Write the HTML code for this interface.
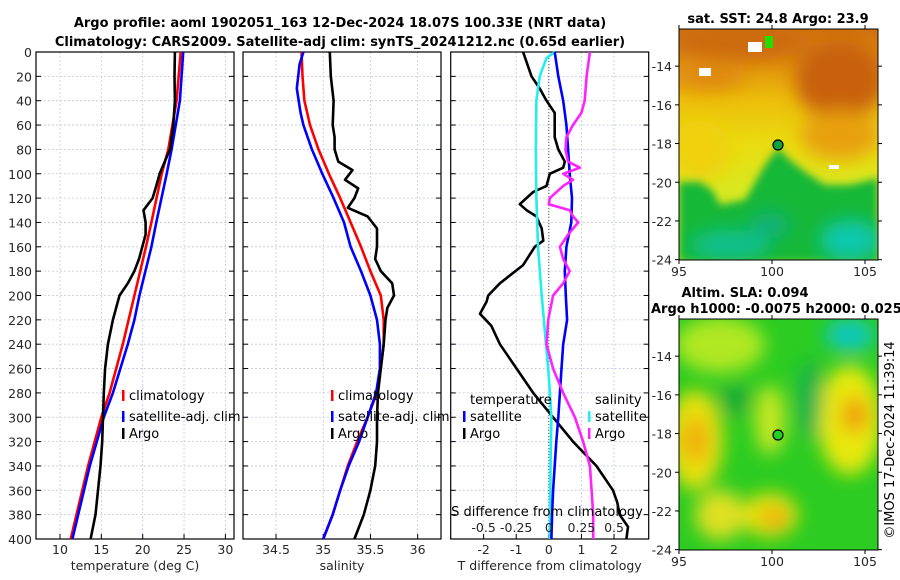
<!DOCTYPE html>
<html><head><meta charset="utf-8"><style>
body{margin:0;background:#fff;}
svg{display:block;font-family:"DejaVu Sans","Liberation Sans",sans-serif;}
.tk{font-size:12.5px;fill:#262626;}
.tt{font-size:13px;font-weight:bold;fill:#000;}
.lg{font-size:13px;fill:#000;}
</style></head><body>
<svg id="c" width="900" height="580" viewBox="0 0 900 580">
<defs>
<clipPath id="m1"><rect x="679" y="29" width="199" height="231"/></clipPath>
<clipPath id="m2"><rect x="679" y="319" width="199" height="231"/></clipPath>
<filter id="bl" x="-50%" y="-50%" width="200%" height="200%"><feGaussianBlur stdDeviation="9"/></filter>
<filter id="bl2" x="-50%" y="-50%" width="200%" height="200%"><feGaussianBlur stdDeviation="4"/></filter>
<linearGradient id="sstg" x1="0" y1="0" x2="0" y2="1">
<stop offset="0" stop-color="#d0700e"/><stop offset="0.15" stop-color="#e0900e"/><stop offset="0.3" stop-color="#ecbc0a"/><stop offset="0.5" stop-color="#eadc10"/><stop offset="0.7" stop-color="#d8e820"/><stop offset="1" stop-color="#c0e020"/>
</linearGradient>
</defs>
<text class="tt" x="340" y="27" text-anchor="middle">Argo profile: aoml 1902051_163 12-Dec-2024 18.07S 100.33E (NRT data)</text>
<text class="tt" x="340" y="46" text-anchor="middle">Climatology: CARS2009. Satellite-adj clim: synTS_20241212.nc (0.65d earlier)</text>
<g id="panels"></g>
<!-- SST map -->
<g clip-path="url(#m1)">
<rect x="679" y="29" width="199" height="231" fill="url(#sstg)"/>
<g filter="url(#bl)">
<ellipse cx="840" cy="80" rx="45" ry="40" fill="#c86010"/>
<ellipse cx="740" cy="42" rx="70" ry="18" fill="#cc6a10"/>
<ellipse cx="710" cy="75" rx="35" ry="15" fill="#e08a10"/>
<ellipse cx="840" cy="135" rx="40" ry="25" fill="#e8a010"/>
<ellipse cx="700" cy="150" rx="30" ry="30" fill="#f0d010"/>
</g>
<polygon filter="url(#bl2)" points="679,182 700,182 712,190 720,205 745,200 765,165 778,148 790,160 805,172 825,185 850,185 878,178 878,262 679,262" fill="#18b838"/>
<g filter="url(#bl)">
<ellipse cx="730" cy="245" rx="40" ry="15" fill="#10c090"/>
<ellipse cx="850" cy="240" rx="30" ry="20" fill="#10c8b0"/>
<ellipse cx="770" cy="225" rx="20" ry="12" fill="#10b080"/>
</g>
<rect x="699" y="68" width="12" height="8" fill="#fff"/>
<rect x="748" y="42" width="14" height="10" fill="#fff"/>
<rect x="829" y="165" width="10" height="4" fill="#fff"/>
<rect x="765" y="36" width="8" height="12" fill="#22dd00"/>
</g>
<rect x="679" y="29" width="199" height="231" fill="none" stroke="#000" stroke-width="1"/>
<circle cx="778" cy="145" r="5" fill="#10a040" stroke="#000" stroke-width="1.2"/>
<text class="tt" x="778" y="23" text-anchor="middle">sat. SST: 24.8 Argo: 23.9</text>
<!-- SLA map -->
<g clip-path="url(#m2)">
<rect x="679" y="319" width="199" height="231" fill="#2ccc22"/>
<g filter="url(#bl)">
<ellipse cx="720" cy="345" rx="45" ry="28" fill="#b0e820"/>
<ellipse cx="695" cy="440" rx="28" ry="50" fill="#e8e010"/>
<ellipse cx="695" cy="440" rx="14" ry="22" fill="#f0b010"/>
<ellipse cx="850" cy="420" rx="32" ry="55" fill="#e8e810"/>
<ellipse cx="855" cy="415" rx="14" ry="18" fill="#f0a010"/>
<ellipse cx="770" cy="515" rx="28" ry="22" fill="#e8e010"/>
<ellipse cx="775" cy="518" rx="12" ry="10" fill="#f0a010"/>
<ellipse cx="720" cy="515" rx="25" ry="25" fill="#e0e020"/>
<ellipse cx="770" cy="420" rx="15" ry="35" fill="#c8e820"/>
<ellipse cx="850" cy="335" rx="25" ry="16" fill="#10c8c0"/>
<ellipse cx="810" cy="400" rx="12" ry="40" fill="#18b050"/>
<ellipse cx="735" cy="400" rx="15" ry="15" fill="#18a838"/>
</g>
</g>
<rect x="679" y="319" width="199" height="231" fill="none" stroke="#000" stroke-width="1"/>
<circle cx="778" cy="435" r="5" fill="#22cc22" stroke="#000" stroke-width="1.2"/>
<text class="tt" x="745" y="297" text-anchor="middle">Altim. SLA: 0.094</text>
<text class="tt" x="651" y="313">Argo h1000: -0.0075 h2000: 0.025</text>
<text class="lg" transform="translate(894,440) rotate(-90)" text-anchor="middle">©IMOS 17-Dec-2024 11:39:14</text>
<g id="maxes"></g>
</svg>
<script>
const depths=[0,20,40,60,80,100,110,120,130,140,150,160,170,180,190,200,210,220,240,260,280,300,320,340,360,380,400];
const climTD=[0,40,80,100,140,160,200,240,280,300,340,400];
const climT=[24.6,24.1,23.1,22.3,21.05,20.4,19.0,17.6,16.0,15.0,13.4,11.3];
const satTD=[0,40,80,100,140,160,200,220,240,280,300,340,400];
const satT=[24.9,24.5,23.5,22.9,21.65,21.05,19.6,19.0,18.2,16.4,15.3,13.6,11.5];
const argoTD=[0,20,40,60,80,100,110,120,130,140,150,160,170,180,190,200,210,220,240,260,280,300,320,340,360,380,400];
const argoT=[23.9,23.85,23.9,23.7,23.3,22.05,21.65,21.2,20.1,20.35,20.35,19.95,19.55,19.0,18.2,17.2,16.8,16.4,15.8,15.45,15.3,15.2,15.1,14.9,14.6,14.3,13.7];
const climSD=[0,20,40,60,80,100,120,140,160,180,200,220,240,260,280,300,320,340,360,380,400];
const climS=[34.77,34.78,34.80,34.86,34.95,35.06,35.18,35.29,35.40,35.50,35.61,35.64,35.64,35.61,35.57,35.47,35.36,35.26,35.18,35.10,35.0];
const satSD=[0,10,30,50,60,80,100,120,140,160,180,200,220,240,260,280,300,320,340,360,380,400];
const satS=[34.79,34.75,34.72,34.76,34.79,34.88,34.99,35.11,35.22,35.29,35.40,35.50,35.57,35.60,35.60,35.56,35.47,35.38,35.27,35.18,35.10,35.0];
const argoSD=[0,20,40,60,70,80,90,97,105,112,120,128,135,145,160,170,180,190,200,210,220,240,260,280,300,320,340,360,380,400];
const argoS=[35.07,35.08,35.11,35.10,35.12,35.12,35.16,35.31,35.23,35.37,35.33,35.26,35.47,35.57,35.57,35.55,35.61,35.73,35.75,35.68,35.66,35.64,35.61,35.58,35.57,35.57,35.55,35.50,35.43,35.33];
const dTD=[0,20,30,40,50,70,80,90,95,100,110,115,125,130,135,145,155,160,175,190,200,205,215,225,240,260,280,300,320,340,360,370,380,390,400];
const dTArgo=[-0.79,-0.53,-0.28,-0.07,0.18,0.18,0.29,0.49,0.44,0.03,-0.07,-0.48,-0.89,-0.68,-0.38,-0.22,-0.17,-0.43,-0.79,-1.5,-1.86,-1.91,-2.11,-1.76,-1.5,-0.99,-0.48,0.13,0.74,1.46,1.97,2.1,2.17,2.43,2.38];
const dTSD=[0,20,40,60,80,100,120,140,160,180,200,220,240,260,280,300,320,340,360,380,400];
const dTSat=[0.18,0.29,0.44,0.54,0.59,0.64,0.71,0.69,0.54,0.49,0.52,0.56,0.44,0.39,0.34,0.29,0.23,0.18,0.13,0.10,0.08];
const dSSD=[0,5,20,40,80,120,160,200,240,260,280,300,340,400];
const dSSat=[0.045,-0.018,-0.07,-0.095,-0.10,-0.095,-0.083,-0.055,-0.022,-0.005,0.008,0.02,0.013,0.008];
const dSAD=[0,20,40,50,60,70,80,90,95,100,105,110,120,125,130,135,140,150,160,170,180,190,200,220,240,260,280,300,320,340,360,380,400];
const dSArgo=[0.315,0.29,0.275,0.25,0.185,0.135,0.128,0.148,0.238,0.11,0.185,0.11,0.008,0.0,0.16,0.185,0.225,0.148,0.085,0.11,0.16,0.11,0.033,-0.005,-0.018,0.033,0.11,0.2,0.263,0.315,0.328,0.34,0.34];
const yTicks=[0,20,40,60,80,100,120,140,160,180,200,220,240,260,280,300,320,340,360,380,400];
const tTicks=[10,15,20,25,30];
const sTicks=[34.5,35,35.5,36];
const dTicks=[-2,-1,0,1,2];
const dSTicks=[-0.5,-0.25,0,0.25,0.5];
const lonTicks=[95,100,105];
const latTicks=[-14,-16,-18,-20,-22,-24];

const NS='http://www.w3.org/2000/svg';
const Y0=52,Y1=539;
const yD=d=>Y0+d*(Y1-Y0)/400;
const px1=t=>36+(t-7.1)*8.27;
const px2=s=>243+(s-34.15)*94.4;
const px3=t=>450.7+(t+3.01)*32.6;
const pxS=s=>px3(s*4);
const G=document.getElementById('panels');
function mk(tag,at,parent){const e=document.createElementNS(NS,tag);for(const k in at)e.setAttribute(k,at[k]);(parent||G).appendChild(e);return e;}
function txt(x,y,s,cls,anchor,parent){const e=mk('text',{x:x,y:y,class:cls,'text-anchor':anchor||'middle'},parent);e.textContent=s;return e;}
function panel(name,x0,x1,xt,fx,xlab){
  const g=mk('g',{});
  
  
  yTicks.forEach(d=>{mk('line',{x1:x0,x2:x1,y1:yD(d),y2:yD(d),stroke:'#c4c8e0','stroke-width':0.8,'stroke-dasharray':'2,2'},g);
    mk('line',{x1:x0,x2:x0+5,y1:yD(d),y2:yD(d),stroke:'#000'},g);mk('line',{x1:x1-5,x2:x1,y1:yD(d),y2:yD(d),stroke:'#000'},g);});
  xt.forEach(v=>{mk('line',{x1:fx(v),x2:fx(v),y1:Y0,y2:Y1,stroke:'#c4c8e0','stroke-width':0.8,'stroke-dasharray':'2,2'},g);
    mk('line',{x1:fx(v),x2:fx(v),y1:Y1-5,y2:Y1,stroke:'#000'},g);
    const t=txt(fx(v),Y1+15,String(v),'tk','middle',g);
    
    });
  mk('rect',{x:x0,y:Y0,width:x1-x0,height:Y1-Y0,fill:'none',stroke:'#000','stroke-width':1.2},g);
  const xl=txt((x0+x1)/2,Y1+31,xlab,'tk','middle',g);
  
  
  return g;
}
function line(g,name,xs,ds,fx,col){
  const p=mk('polyline',{points:xs.map((v,i)=>fx(v).toFixed(1)+','+yD(ds[i]).toFixed(1)).join(' '),fill:'none',stroke:col,'stroke-width':2.6,'stroke-linejoin':'round'},g);
  
  
}
function leg(g,x,y,col,label){
  mk('rect',{x:x-7,y:y-10,width:2.5,height:11,fill:col},g);
  const t=txt(x,y,label,'lg','start',g);
  
  
}
const g1=panel('temperature-panel',36,234,tTicks,px1,'temperature (deg C)');
yTicks.forEach(d=>{const t=txt(32,yD(d)+5,String(d),'tk','end',g1);
  
  });
line(g1,'temp-climatology-line',climT,climTD,px1,'#ff0000');
line(g1,'temp-satellite-line',satT,satTD,px1,'#0000ff');
line(g1,'temp-argo-line',argoT,argoTD,px1,'#000');
leg(g1,129,400,'#ff0000','climatology');leg(g1,129,421,'#0000ff','satellite-adj. clim');leg(g1,129,438,'#000','Argo');
const g2=panel('salinity-panel',243,441,sTicks,px2,'salinity');
line(g2,'sal-climatology-line',climS,climSD,px2,'#ff0000');
line(g2,'sal-satellite-line',satS,satSD,px2,'#0000ff');
line(g2,'sal-argo-line',argoS,argoSD,px2,'#000');
leg(g2,338,400,'#ff0000','climatology');leg(g2,338,421,'#0000ff','satellite-adj. clim');leg(g2,338,438,'#000','Argo');
const g3=panel('difference-panel',450.7,648.7,dTicks,px3,'T difference from climatology');
mk('line',{x1:px3(0),x2:px3(0),y1:Y0,y2:Y1,stroke:'#555','stroke-width':1,'stroke-dasharray':'1,2'},g3);
line(g3,'dT-argo-line',dTArgo,dTD,px3,'#000');
line(g3,'dS-satellite-line',dSSat,dSSD,pxS,'#22eeee');
line(g3,'dT-satellite-line',dTSat,dTSD,px3,'#0000ff');
line(g3,'dS-argo-line',dSArgo,dSAD,pxS,'#ff22ff');
const lt=txt(470,404,'temperature','lg','start',g3);
const ls=txt(595,404,'salinity','lg','start',g3);
leg(g3,470,421,'#0000ff','satellite');leg(g3,470,438,'#000','Argo');
leg(g3,595,421,'#22eeee','satellite');leg(g3,595,438,'#ff22ff','Argo');
const st=txt(547,516,'S difference from climatology','lg','middle',g3);
dSTicks.forEach(v=>{const t=txt(pxS(v),532,String(v),'tk','middle',g3);
  
  });
const M=document.getElementById('maxes');
const lonX=v=>679+(v-95)*18.6;
function mapAxes(top,bot,name){
  const latY=v=>top+(-12.08-v)*19.35;
  lonTicks.forEach(v=>{mk('line',{x1:lonX(v),x2:lonX(v),y1:bot,y2:bot+4,stroke:'#000'},M);mk('line',{x1:lonX(v),x2:lonX(v),y1:top-4,y2:top,stroke:'#000'},M);
    const t=txt(lonX(v),bot+16,String(v),'tk','middle',M);});
  latTicks.forEach(v=>{mk('line',{x1:675,x2:679,y1:latY(v),y2:latY(v),stroke:'#000'},M);mk('line',{x1:878,x2:882,y1:latY(v),y2:latY(v),stroke:'#000'},M);
    const t=txt(672,latY(v)+5,String(v),'tk','end',M);});
}
mapAxes(29,260,'sst');mapAxes(319,550,'sla');
</script>
</body></html>
